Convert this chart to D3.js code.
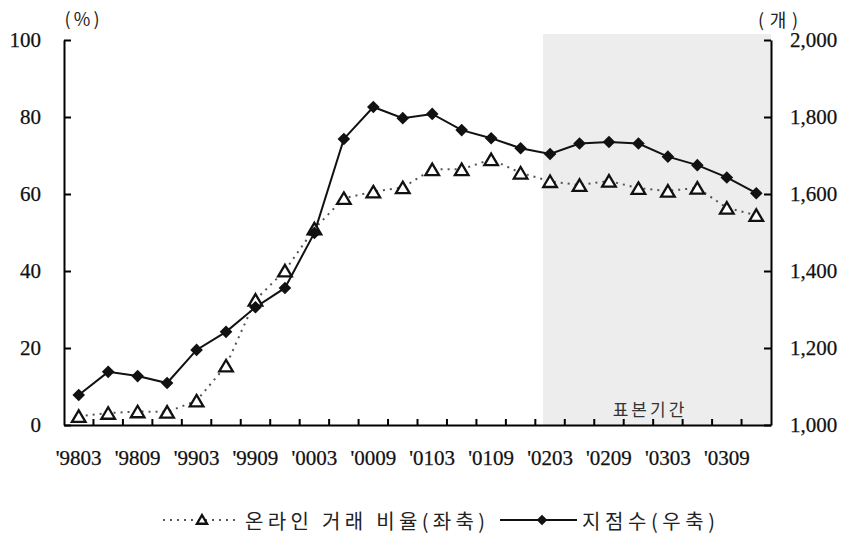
<!DOCTYPE html>
<html>
<head>
<meta charset="utf-8">
<script src="https://cdn.jsdelivr.net/npm/d3@7"></script>
<style>
  html, body { margin: 0; padding: 0; background: #fff; }
  svg { display: block; }
</style>
</head>
<body>
<div id="chart"></div>
<script>
// ---- data ----
const quarters = ["'9803","'9806","'9809","'9812","'9903","'9906","'9909","'9912",
                  "'0003","'0006","'0009","'0012","'0103","'0106","'0109","'0112",
                  "'0203","'0206","'0209","'0212","'0303","'0306","'0309","'0312"];
const onlineRatio = [2.3, 3.1, 3.5, 3.4, 6.3, 15.4, 32.5, 40.1,
                     51.0, 58.9, 60.6, 61.7, 66.4, 66.4, 69.0, 65.5,
                     63.3, 62.3, 63.4, 61.5, 60.8, 61.6, 56.4, 54.5];
const branches = [1078, 1138, 1127, 1109, 1195, 1242, 1306, 1356,
                  1499, 1743, 1826, 1797, 1808, 1766, 1745, 1719,
                  1704, 1731, 1735, 1731, 1697, 1675, 1643, 1602];
const xTickLabels = ["'9803","'9809","'9903","'9909","'0003","'0009",
                     "'0103","'0109","'0203","'0209","'0303","'0309"];
const leftTicks = [0, 20, 40, 60, 80, 100];
const rightTicks = [1000, 1200, 1400, 1600, 1800, 2000];
const sampleStart = "'0203";
const seriesNames = ["온라인 거래 비율(좌축)", "지점수(우축)"];
const unitLeft = "(%)", unitRight = "(개)", sampleLabel = "표본기간";

// ---- layout ----
const W = 844, H = 533;
const L = 64, R = 771, T = 40, B = 425;
const serif = "'Liberation Serif', 'Times New Roman', serif";
const kor = "'Noto Sans CJK KR', 'Noto Sans', sans-serif";

const svg = d3.select("#chart").append("svg").attr("width", W).attr("height", H);

const x = d3.scaleBand().domain(quarters).range([L, R]).padding(0);
const bw = x.bandwidth();
const cx = q => x(q) + bw / 2;
const yL = d3.scaleLinear().domain([0, 100]).range([B, T]);
const yR = d3.scaleLinear().domain([1000, 2000]).range([B, T]);

// shaded sample period
const sx = x(sampleStart) + bw * 0.26;
svg.append("rect")
  .attr("x", sx).attr("y", 34)
  .attr("width", R - sx).attr("height", B - 34)
  .attr("fill", "#ededed");

svg.append("text")
  .attr("x", 650).attr("y", 408)
  .attr("text-anchor", "middle").attr("dominant-baseline", "central")
  .attr("font-family", kor).attr("font-size", 17).attr("fill", "#333")
  .attr("letter-spacing", 3)
  .text(sampleLabel);

// axes
const gL = svg.append("g").attr("transform", `translate(${L},0)`)
  .call(d3.axisLeft(yL).tickValues(leftTicks).tickSize(-7).tickSizeOuter(0).tickPadding(23));
const gR = svg.append("g").attr("transform", `translate(${R},0)`)
  .call(d3.axisRight(yR).tickValues(rightTicks).tickSize(-7).tickSizeOuter(0).tickPadding(19).tickFormat(d3.format(",")));
const gB = svg.append("g").attr("transform", `translate(0,${B})`)
  .call(d3.axisBottom(x).tickValues(xTickLabels).tickSize(0).tickSizeOuter(0).tickPadding(25));

[gL, gR, gB].forEach(g => {
  g.attr("font-family", serif).attr("font-size", 21);
  g.selectAll("text").attr("fill", "#111").attr("stroke", "#111").attr("stroke-width", 0.25);
  g.select(".domain").attr("stroke", "#000").attr("stroke-width", 2);
  g.selectAll(".tick line").attr("stroke", "#000").attr("stroke-width", 2);
});
// category boundary ticks on x axis
const bounds = quarters.map(q => x(q)).concat([R]);
svg.append("g").selectAll("line").data(bounds.slice(1, -1)).join("line")
  .attr("x1", d => d).attr("x2", d => d)
  .attr("y1", B).attr("y2", B - 6)
  .attr("stroke", "#000").attr("stroke-width", 2);

// unit labels
svg.append("text").attr("x", 82).attr("y", 18)
  .attr("text-anchor", "middle").attr("dominant-baseline", "central")
  .attr("font-family", kor).attr("font-size", 18).attr("fill", "#222")
  .attr("textLength", 35).attr("lengthAdjust", "spacing")
  .text(unitLeft);
svg.append("text").attr("x", 778).attr("y", 19)
  .attr("text-anchor", "middle").attr("dominant-baseline", "central")
  .attr("font-family", kor).attr("font-size", 18).attr("fill", "#222")
  .attr("textLength", 40).attr("lengthAdjust", "spacing")
  .text(unitRight);

// series
const triPath = s => `M0,${-6.5*s} L${6.8*s},${5*s} L${-6.8*s},${5*s} Z`;
const diaPath = s => `M0,${-6.3*s} L${6.3*s},0 L0,${6.3*s} L${-6.3*s},0 Z`;

const lineL = d3.line().x((d, i) => cx(quarters[i])).y(d => yL(d));
const lineR = d3.line().x((d, i) => cx(quarters[i])).y(d => yR(d));

svg.append("path").datum(onlineRatio).attr("d", lineL)
  .attr("fill", "none").attr("stroke", "#555").attr("stroke-width", 2)
  .attr("stroke-dasharray", "2,5");

svg.append("path").datum(branches).attr("d", lineR)
  .attr("fill", "none").attr("stroke", "#111").attr("stroke-width", 2);

svg.append("g").selectAll("path").data(onlineRatio).join("path")
  .attr("transform", (d, i) => `translate(${cx(quarters[i])},${yL(d) + 0.7})`)
  .attr("d", triPath(1))
  .attr("fill", "#fff").attr("stroke", "#111").attr("stroke-width", 2.3);

svg.append("g").selectAll("path").data(branches).join("path")
  .attr("transform", (d, i) => `translate(${cx(quarters[i])},${yR(d)})`)
  .attr("d", diaPath(1))
  .attr("fill", "#111");

// legend
const ly = 520;
svg.append("line").attr("x1", 163).attr("x2", 238).attr("y1", ly).attr("y2", ly)
  .attr("stroke", "#555").attr("stroke-width", 2).attr("stroke-dasharray", "2,5");
svg.append("path").attr("transform", `translate(202,${ly})`).attr("d", triPath(0.75))
  .attr("fill", "#fff").attr("stroke", "#111").attr("stroke-width", 2.3);
svg.append("text").attr("x", 245).attr("y", ly)
  .attr("dominant-baseline", "central")
  .attr("font-family", kor).attr("font-size", 20).attr("fill", "#222")
  .attr("textLength", 240).attr("lengthAdjust", "spacing")
  .text(seriesNames[0]);
svg.append("line").attr("x1", 500).attr("x2", 577).attr("y1", ly).attr("y2", ly)
  .attr("stroke", "#111").attr("stroke-width", 2);
svg.append("path").attr("transform", `translate(542,${ly})`).attr("d", diaPath(0.85))
  .attr("fill", "#111");
svg.append("text").attr("x", 582).attr("y", ly)
  .attr("dominant-baseline", "central")
  .attr("font-family", kor).attr("font-size", 20).attr("fill", "#222")
  .attr("textLength", 133).attr("lengthAdjust", "spacing")
  .text(seriesNames[1]);
</script>
</body>
</html>
